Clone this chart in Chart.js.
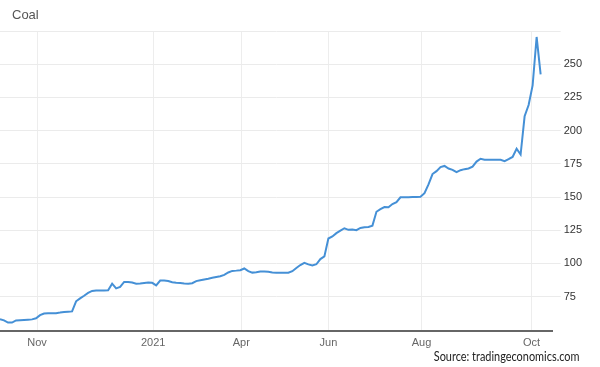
<!DOCTYPE html>
<html>
<head>
<meta charset="utf-8">
<script src="https://cdn.jsdelivr.net/npm/chart.js@4/dist/chart.umd.min.js"></script>
<style>
  html, body { margin: 0; padding: 0; background: #fff; }
  #wrap { position: relative; width: 600px; height: 367px; }
  #title { position: absolute; left: 12px; top: 7px; font: 13px "Liberation Sans", Arial, sans-serif; color: #555; }
  #source { position: absolute; right: 20px; bottom: 3px; font: 13px Lato, sans-serif; color: #222;
            transform: scaleX(0.84); transform-origin: right center; }
</style>
</head>
<body>
<div id="wrap">
  <canvas id="coalChart" width="600" height="367"></canvas>
  <div id="title">Coal</div>
  <div id="source">Source: tradingeconomics.com</div>
</div>
<script>
// coal price, one point per sample step (oct 2020 -> oct 2021)
const coalPrices = [
  58.1, 57.2, 55.5, 55.5, 57.1, 57.3, 57.5, 57.7, 57.9, 58.7,
  61.1, 62.3, 62.6, 62.6, 62.6, 63.0, 63.5, 63.7, 63.9, 71.5,
  73.7, 75.7, 77.8, 79.3, 79.6, 79.6, 79.7, 79.8, 84.8, 81.2,
  82.3, 86.1, 86.1, 85.6, 84.8, 85.0, 85.3, 85.6, 85.4, 83.5,
  87.1, 87.1, 86.8, 85.8, 85.5, 85.3, 85.0, 84.8, 85.1, 86.7,
  87.3, 87.9, 88.5, 89.2, 89.8, 90.4, 91.4, 93.2, 94.4, 94.6,
  94.9, 96.2, 94.2, 93.1, 93.3, 93.9, 94.0, 93.7, 93.2, 93.0,
  93.0, 93.0, 93.0, 94.2, 96.6, 98.8, 100.5, 99.3, 98.5, 99.4,
  103.3, 105.3, 118.8, 120.3, 122.8, 124.7, 126.5, 125.3, 125.6, 125.1,
  126.7, 127.3, 127.5, 128.5, 138.9, 140.9, 142.5, 142.3, 144.7, 146.1,
  149.8, 149.9, 149.9, 150.0, 150.1, 150.2, 152.9, 159.5, 167.3, 169.5,
  172.5, 173.4, 171.5, 170.5, 168.7, 170.2, 171.0, 171.5, 172.9, 176.7,
  178.8, 178.1, 178.0, 178.0, 178.0, 178.0, 177.0, 178.5, 180.2, 186.4,
  182.0, 210.8, 219.3, 234.0, 270.5, 242.4
];

// x axis labels and where they sit (in sample steps)
const monthLabels = ['Nov', '2021', 'Apr', 'Jun', 'Aug', 'Oct'];
const monthPos = [9.25, 38.25, 60.25, 82, 105.25, 132.75];

const yTicks = [75, 100, 125, 150, 175, 200, 225, 250];
const yTop = 275;

const ctx = document.getElementById('coalChart').getContext('2d');

new Chart(ctx, {
  type: 'line',
  data: {
    datasets: [{
      label: 'Coal',
      data: coalPrices.map((v, i) => ({ x: i, y: v })),
      borderColor: '#4590d6',
      borderWidth: 2,
      pointRadius: 0,
      tension: 0,
      fill: false
    }]
  },
  options: {
    responsive: false,
    animation: false,
    layout: { padding: { top: 31, left: 0, right: 15, bottom: 11 } },
    plugins: {
      legend: { display: false },
      tooltip: { enabled: false }
    },
    scales: {
      x: {
        type: 'linear',
        min: 0,
        max: 138,
        afterBuildTicks: scale => {
          scale.ticks = monthPos.map(v => ({ value: v }));
        },
        ticks: {
          autoSkip: false,
          maxRotation: 0,
          padding: 6,
          color: '#666',
          font: { family: 'Liberation Sans', size: 11 },
          callback: (val, i) => monthLabels[i]
        },
        grid: { color: '#ededed', drawTicks: false },
        border: { display: true, color: '#666', width: 2 }
      },
      y: {
        position: 'right',
        min: 49.3,
        max: yTop,
        afterBuildTicks: scale => {
          scale.ticks = yTicks.concat([yTop]).map(v => ({ value: v }));
        },
        ticks: {
          padding: 3,
          color: '#333',
          font: { family: 'Liberation Sans', size: 11 },
          callback: v => yTicks.includes(v) ? v : ''
        },
        grid: { color: '#ebebeb', tickLength: 8 },
        border: { display: false }
      }
    }
  }
});
</script>
</body>
</html>
